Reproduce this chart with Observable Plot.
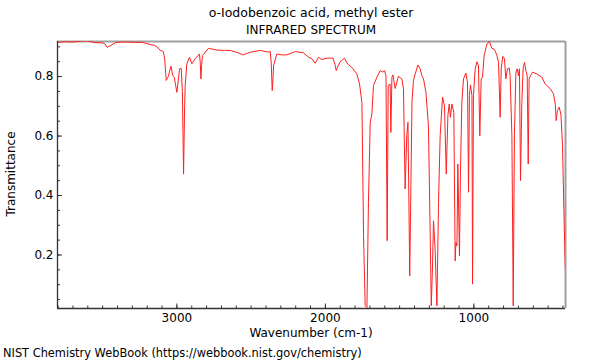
<!DOCTYPE html>
<html><head><meta charset="utf-8">
<script src="https://cdn.jsdelivr.net/npm/d3@7"></script>
<script src="https://cdn.jsdelivr.net/npm/@observablehq/plot@0.6"></script>
<style>body{margin:0;background:#fff} svg{display:block}</style>
</head><body><div id="chart"></div>
<script>
const title = "o-Iodobenzoic acid, methyl ester";
const subtitle = "INFRARED SPECTRUM";
const xLabel = "Wavenumber (cm-1)";
const yLabel = "Transmittance";
const caption = "NIST Chemistry WebBook (https://webbook.nist.gov/chemistry)";

const wavenumber = [3804,3750,3705,3650,3604,3550,3503,3485,3469,3449,3415,3380,3328,3280,3234,3180,3150,3133,3112,3092,3082,3072,3058,3040,3027,3018,3000,2982,2971,2963,2955,2948,2944,2933,2915,2899,2877,2848,2843,2838,2833,2828,2787,2731,2680,2641,2587,2554,2506,2439,2383,2372,2365,2358,2352,2349,2327,2293,2259,2203,2147,2114,2091,2069,2046,2024,1990,1949,1935,1927,1915,1900,1871,1855,1844,1822,1788,1770,1754,1743,1732,1720,1710,1698,1687,1676,1653,1631,1613,1602,1592,1584,1577,1564,1559,1552,1545,1530,1508,1485,1474,1463,1452,1444,1438,1432,1417,1407,1395,1377,1362,1350,1339,1323,1306,1294,1287,1279,1272,1261,1249,1238,1227,1211,1198,1186,1175,1166,1158,1148,1135,1126,1121,1114,1108,1097,1090,1081,1070,1054,1043,1036,1030,1023,1013,1009,1003,991,980,969,960,951,942,931,912,895,879,861,845,834,823,816,805,794,785,774,762,756,744,735,727,717,708,700,693,686,677,668,659,650,641,634,628,619,605,576,542,520,486,464,452,446,437,426,414,403,392,384];
const transmittance = [0.915,0.917,0.916,0.919,0.920,0.914,0.914,0.910,0.898,0.904,0.914,0.916,0.916,0.915,0.915,0.908,0.905,0.900,0.888,0.885,0.860,0.787,0.800,0.835,0.803,0.798,0.747,0.826,0.828,0.750,0.472,0.700,0.770,0.843,0.865,0.843,0.860,0.876,0.850,0.792,0.840,0.871,0.895,0.889,0.888,0.888,0.880,0.873,0.882,0.888,0.882,0.885,0.850,0.753,0.800,0.837,0.876,0.873,0.873,0.884,0.880,0.865,0.860,0.845,0.865,0.857,0.862,0.862,0.840,0.820,0.835,0.850,0.862,0.846,0.840,0.831,0.809,0.775,0.713,0.265,0.029,0.023,0.377,0.646,0.674,0.770,0.798,0.820,0.815,0.820,0.803,0.248,0.770,0.775,0.612,0.798,0.806,0.760,0.801,0.792,0.759,0.422,0.600,0.646,0.400,0.130,0.713,0.787,0.809,0.839,0.826,0.803,0.792,0.747,0.635,0.265,0.029,0.153,0.315,0.220,0.029,0.377,0.601,0.731,0.702,0.472,0.669,0.708,0.663,0.708,0.680,0.180,0.242,0.231,0.506,0.197,0.489,0.713,0.792,0.812,0.781,0.411,0.736,0.772,0.736,0.102,0.736,0.826,0.850,0.837,0.601,0.792,0.798,0.871,0.910,0.918,0.895,0.891,0.871,0.848,0.663,0.826,0.868,0.860,0.792,0.826,0.829,0.803,0.601,0.029,0.601,0.815,0.826,0.803,0.826,0.450,0.713,0.831,0.848,0.820,0.803,0.506,0.792,0.803,0.815,0.809,0.798,0.775,0.759,0.742,0.708,0.652,0.686,0.697,0.674,0.568,0.309,0.150];

const xDomain = [3804, 383];
const yDomain = [0.02, 0.918];
const xMajorTicks = [3000, 2000, 1000];
const xMinorTicks = [400,500,600,700,800,900,1000,1100,1200,1300,1400,1500,1600,1700,1800,1900,2000,2100,2200,2300,2400,2500,2600,2700,2800,2900,3000,3100,3200,3300,3400,3500,3600,3700,3800];
const yMajorTicks = [0.2, 0.4, 0.6, 0.8];
const yMinorTicks = [0.05,0.1,0.15,0.2,0.25,0.3,0.35,0.4,0.45,0.5,0.55,0.6,0.65,0.7,0.75,0.8,0.85,0.9];

const spectrum = wavenumber.map((w, i) => ({w, t: transmittance[i]}));
const font = "DejaVu Sans, sans-serif";

const chart = Plot.plot({
  width: 600, height: 360,
  marginTop: 41, marginBottom: 52, marginLeft: 57, marginRight: 35,
  style: {fontFamily: font, fontSize: "12px", color: "#000", background: "#fff"},
  x: {domain: xDomain, label: null},
  y: {domain: yDomain, label: null},
  marks: [
    Plot.ruleY([yDomain[1]], {stroke: "#a0a0a0", strokeWidth: 2}),
    Plot.ruleX([xDomain[1]], {stroke: "#a0a0a0", strokeWidth: 2}),
    Plot.line(spectrum, {x: "w", y: "t", stroke: "#ff2020", strokeWidth: 1, clip: true}),
    Plot.ruleX([xDomain[0]], {stroke: "#333", strokeWidth: 1.3}),
    Plot.ruleY([yDomain[0]], {stroke: "#333", strokeWidth: 1.3}),
    Plot.axisX({ticks: xMajorTicks, tickSize: 0, tickPadding: 5, tickFormat: d => String(d), fontSize: 12}),
    Plot.axisX({ticks: xMinorTicks, tickSize: -2.5, text: null, stroke: "#333"}),
    Plot.axisX({ticks: xMajorTicks, tickSize: -4.5, text: null, stroke: "#333"}),
    Plot.axisY({ticks: yMajorTicks, tickSize: 0, tickPadding: 4, tickFormat: d => d.toFixed(1), fontSize: 12}),
    Plot.axisY({ticks: yMinorTicks, tickSize: -3, text: null, stroke: "#333"}),
    Plot.axisY({ticks: yMajorTicks, tickSize: -5, text: null, stroke: "#333"})
  ]
});
document.getElementById("chart").appendChild(chart);

const svg = d3.select(chart);
const addText = (txt, x, y, anchor, size, rotate) => {
  const t = svg.append("text").attr("x", x).attr("y", y)
    .attr("text-anchor", anchor).attr("font-family", font).attr("font-size", size)
    .attr("fill", "#000").text(txt);
  if (rotate) t.attr("transform", `rotate(-90 ${x} ${y})`);
};
addText(title, 311, 17, "middle", 12.5);
addText(subtitle, 311, 34, "middle", 12);
addText(xLabel, 311, 337, "middle", 12);
addText(yLabel, 15, 174, "middle", 12, true);
addText(caption, 3, 357, "start", 11.4);
</script>
</body></html>
